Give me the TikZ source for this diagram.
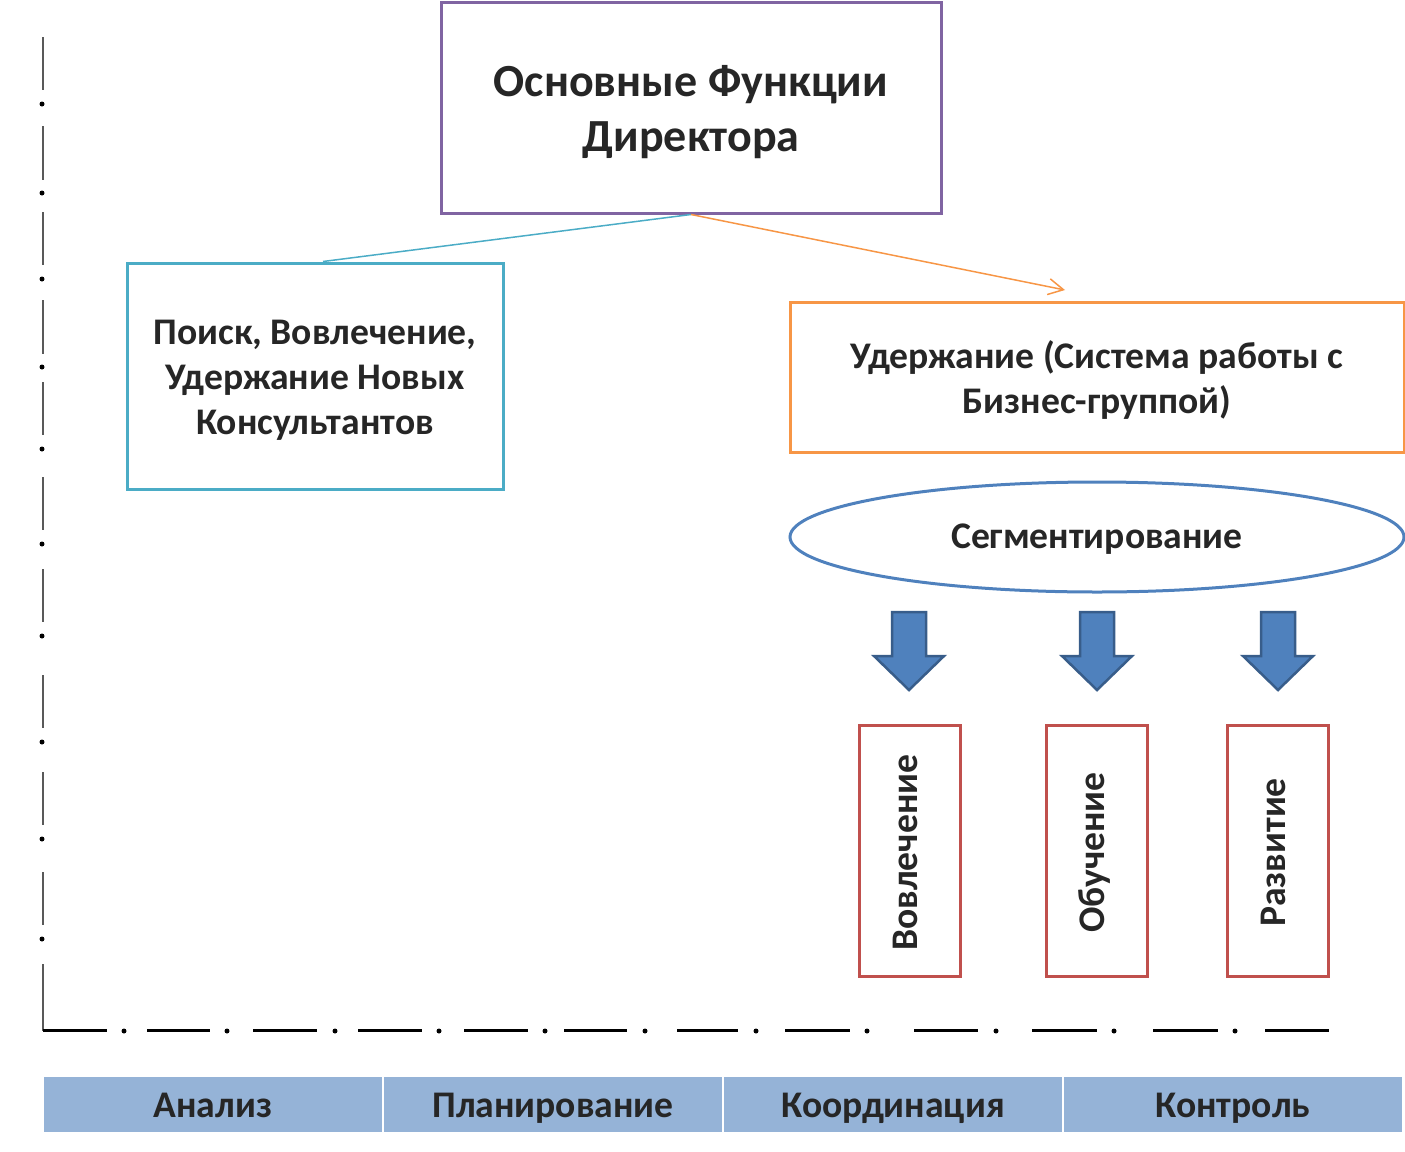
\documentclass[tikz,border=0pt]{standalone}
\usepackage{fontspec}
\setmainfont{Carlito}
\usetikzlibrary{shapes.geometric,arrows.meta}

\definecolor{dirpurple}{HTML}{8064A2}
\definecolor{searchcyan}{HTML}{4BACC6}
\definecolor{keeporange}{HTML}{F79646}
\definecolor{segblue}{HTML}{4F81BD}
\definecolor{segdark}{HTML}{385D8A}
\definecolor{stepred}{HTML}{C0504D}
\definecolor{stageblue}{HTML}{95B3D7}
\definecolor{txtgray}{HTML}{262626}
\definecolor{axisgray}{HTML}{595959}

\begin{document}
\begin{tikzpicture}[
            x=1pt,y=-1pt,
            every node/.append style={text=txtgray,align=center,inner sep=0pt,
                font=\bfseries\fontsize{37.6}{45}\selectfont},
            funcbox/.style={draw,line width=3pt,fill=white},
            stepbox/.style={draw=stepred,line width=3pt,minimum width=101,minimum height=251},
            stagecell/.style={fill=stageblue,draw=white,line width=2pt,minimum width=340,minimum height=57},
            oneline/.style={text height=25pt,text depth=9pt}
        ]
            \useasboundingbox (0,0) rectangle (1405,1151);
            % axes
            \foreach \a/\b in {37/90,126/180,212/265,300/354,382/435,477/530,569/622,675/728,772/825,872/925,964/1031}
                \draw [axisgray,line width=2.5pt] (43,\a) -- (43,\b);
            \foreach \y in {104,193,279,367,449,544,636,742,839,939}
                \fill (42,\y) circle (2.5);
            \foreach \a/\b in {43/107,147/210,253/317,358/422,464/528,564/627,677/738,785/850,914/978,1032/1097,1153/1218,1265/1329}
                \draw [black,line width=3pt] (\a,1030) -- (\b,1030);
            \foreach \x in {124,227,335,439,545,645,756,867,996,1114,1235}
                \fill (\x,1031) circle (2.5);
            % boxes
            \node [funcbox,draw=dirpurple,minimum width=500,minimum height=211] (dir) at (691,107.5) {};
            \node [font=\bfseries\fontsize{46}{55}\selectfont] (dirtext) at ([yshift=-5]dir.center)
                {Основные Функции\\Директора};
            \node [funcbox,draw=searchcyan,minimum width=376,minimum height=226] (search) at (315,376) {};
            \node (searchtext) at ([yshift=-4]search.center)
                {Поиск, Вовлечение,\\Удержание Новых\\Консультантов};
            \node [funcbox,draw=keeporange,minimum width=614,minimum height=150] (keep) at (1097,377) {};
            \node (keeptext) at ([yshift=-3]keep.center)
                {Удержание (Система работы с\\Бизнес-группой)};
            \node [draw=segblue,line width=3pt,ellipse,minimum width=614,minimum height=110] (seg) at (1097,537) {};
            \node [oneline] (segtext) at ([yshift=-3]seg.center) {Сегментирование};
            \coordinate (keeptip) at (1065,290);
            \draw [searchcyan,line width=1.5pt] (dir.south) -- ([xshift=8]search.north);
            \draw [keeporange,line width=1.5pt,-{Straight Barb[length=15pt,width=16pt,line width=1.5pt]}]
                (dir.south) -- (keeptip);
            % block arrows
            \foreach \x in {909,1097,1278}
                \draw [segdark,fill=segblue,line width=2.5pt,line join=miter]
                    (\x-17,612) -- (\x+17,612) -- (\x+17,656) -- (\x+35,656) -- (\x,690)
                    -- (\x-35,656) -- (\x-17,656) -- cycle;
            % steps
            \node [stepbox] (involve) at (909.5,850.5) {};
            \node [stepbox] (train) at (1096.5,850.5) {};
            \node [stepbox] (grow) at (1277.5,850.5) {};
            \foreach \s/\t in {involve/Вовлечение,train/Обучение,grow/Развитие}
                \node [oneline,rotate=90] at ([yshift=-2]\s.center) {\t};
            % stages
            \node [stagecell] (analysis) at (213,1104) {};
            \node [stagecell] (plan) at (553,1104) {};
            \node [stagecell] (coord) at (893,1104) {};
            \node [stagecell] (control) at (1233,1104) {};
            \foreach \s/\t in {analysis/Анализ,plan/Планирование,coord/Координация,control/Контроль}
                \node [oneline] at ([yshift=-5]\s.center) {\t};
        \end{tikzpicture}
\end{document}
